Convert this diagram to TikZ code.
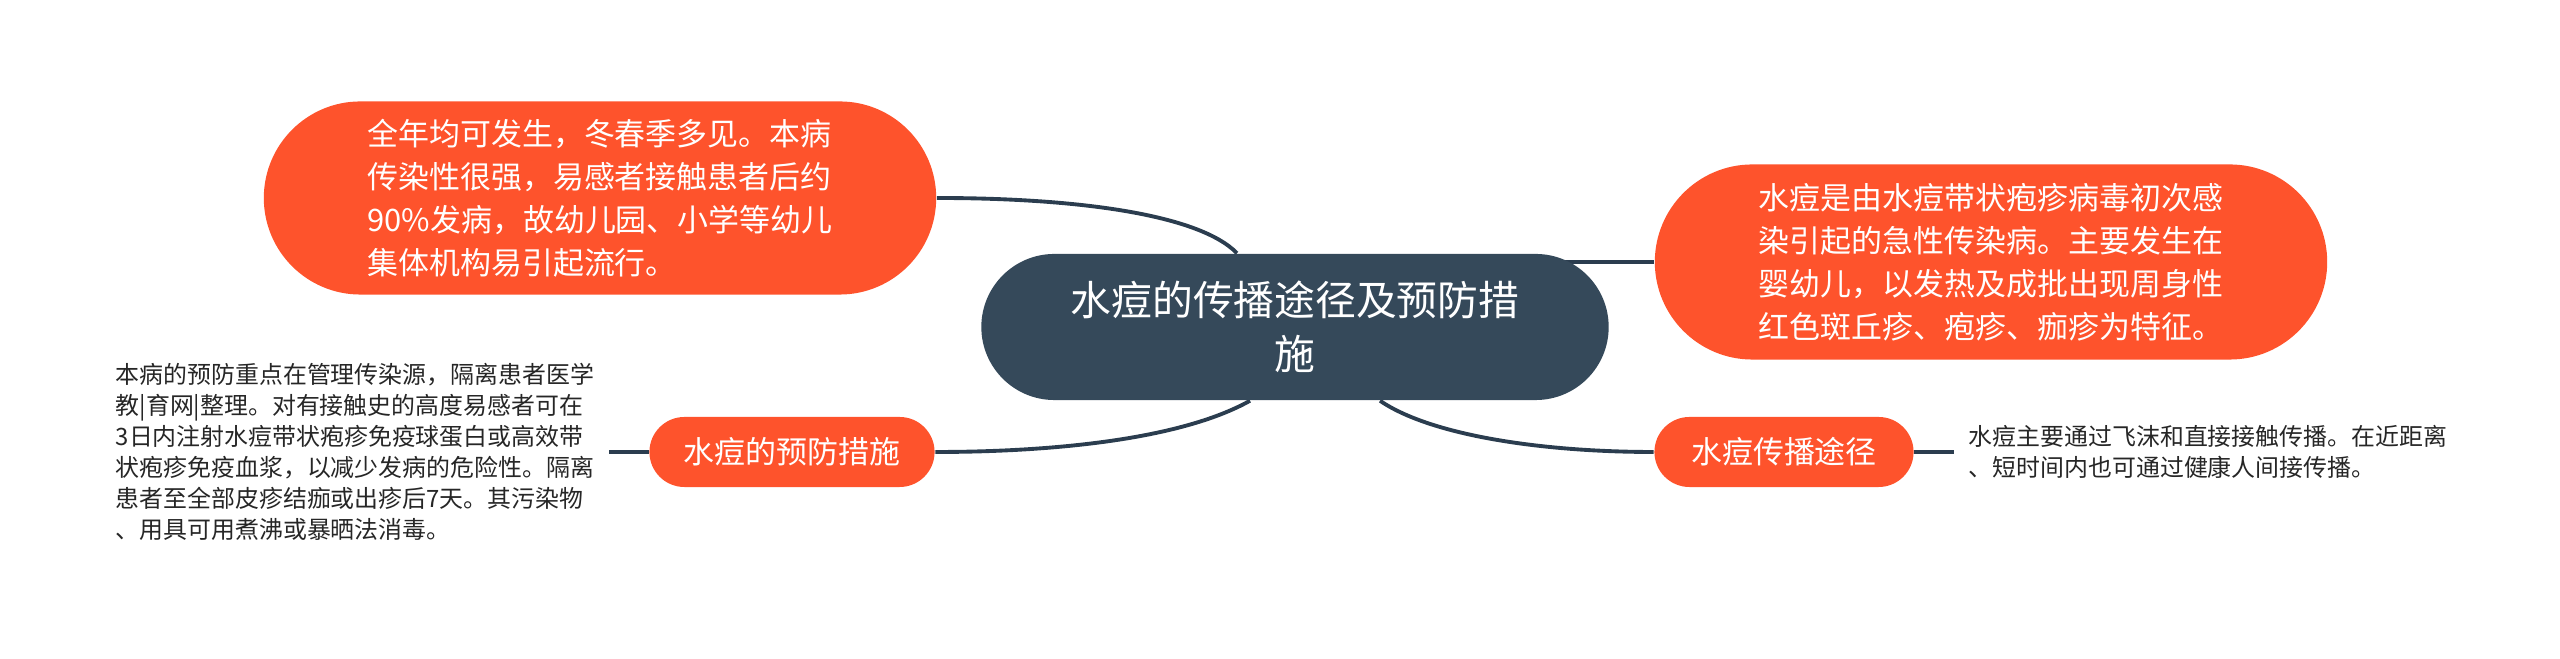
\documentclass[tikz,border=0pt]{standalone}
\usepackage{fontspec}
\usepackage{tikz}
\usetikzlibrary{calc,backgrounds}
\newfontfamily\cjk{Noto Sans CJK SC}
\definecolor{pillred}{HTML}{FE532C}
\definecolor{rootblue}{HTML}{35495A}
\definecolor{linkblue}{HTML}{2B3D4F}

\begin{document}
\begin{tikzpicture}[x=0.01cm,y=-0.01cm,
    pill/.style={fill=pillred,text=white,inner sep=0pt,align=left,
      font=\cjk\fontsize{8.8pt}{12.2pt}\selectfont},
    note/.style={text=black!85,inner sep=4pt,align=left,anchor=west,
      font=\cjk\fontsize{6.8pt}{8.8pt}\selectfont},
    link/.style={draw=linkblue,line width=1.1pt}]
      \useasboundingbox (0,0) rectangle (2560,659);

      \node[fill=rootblue,text=white,inner sep=0pt,align=center,
        minimum width=6.27cm,minimum height=1.46cm,rounded corners=0.73cm,
        font=\cjk\fontsize{11.6pt}{15.3pt}\selectfont](A) at (1295,327)
        {水痘的传播途径及预防措\\施};
      \node[pill,minimum width=6.72cm,minimum height=1.93cm,rounded corners=0.965cm](B) at (600,198)
        {全年均可发生，冬春季多见。本病\\传染性很强，易感者接触患者后约\\90\%发病，故幼儿园、小学等幼儿\\集体机构易引起流行。};
      \node[pill,minimum width=6.72cm,minimum height=1.95cm,rounded corners=0.975cm](C) at (1991,262)
        {水痘是由水痘带状疱疹病毒初次感\\染引起的急性传染病。主要发生在\\婴幼儿，以发热及成批出现周身性\\红色斑丘疹、疱疹、痂疹为特征。};
      \node[pill,minimum width=2.85cm,minimum height=0.7cm,rounded corners=0.35cm](D) at (792,452)
        {水痘的预防措施};
      \node[pill,minimum width=2.59cm,minimum height=0.7cm,rounded corners=0.35cm](E) at (1784,452)
        {水痘传播途径};
      \node[note](F) at (101,452)
        {本病的预防重点在管理传染源，隔离患者医学\\教|育网|整理。对有接触史的高度易感者可在\\3日内注射水痘带状疱疹免疫球蛋白或高效带\\状疱疹免疫血浆，以减少发病的危险性。隔离\\患者至全部皮疹结痂或出疹后7天。其污染物\\、用具可用煮沸或暴晒法消毒。};
      \node[note](G) at (1954,452)
        {水痘主要通过飞沫和直接接触传播。在近距离\\、短时间内也可通过健康人间接传播。};

      \begin{scope}[on background layer]
      \draw[link] (B.east) .. controls (1080,198) and (1200,215) .. ($(A.north)+(-58,0)$);
      \draw[link] (C.west) -- (C.west -| A.center);
      \draw[link] ($(A.south)+(-45,0)$) .. controls (1180,440) and (1050,452) .. (D.east);
      \draw[link] ($(A.south)+(85,0)$) .. controls (1430,435) and (1540,452) .. (E.west);
      \draw[link] (D.west) -- (F.east |- D.west);
      \draw[link] (E.east) -- (G.west |- E.east);
      \end{scope}
    \end{tikzpicture}
\end{document}
